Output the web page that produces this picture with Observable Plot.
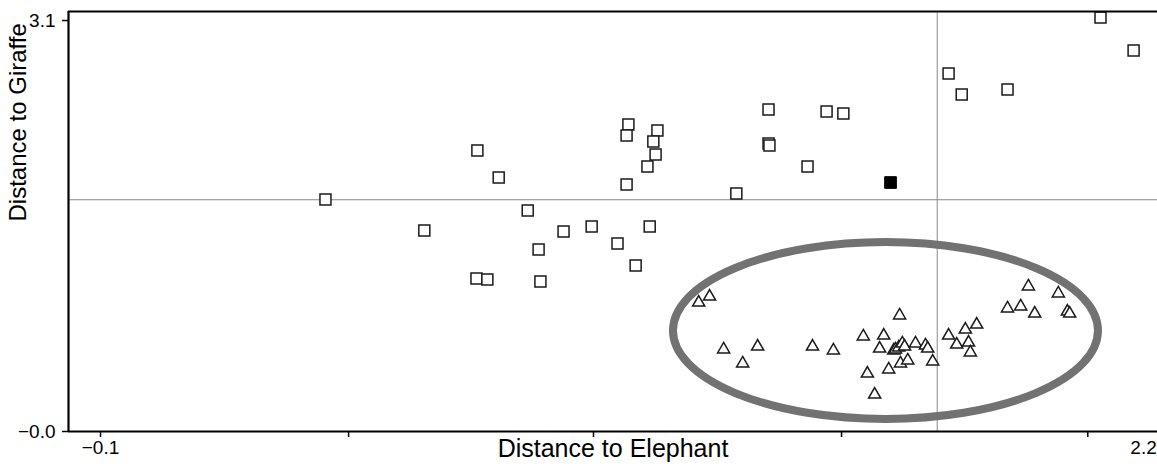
<!DOCTYPE html>
<html>
<head>
<meta charset="utf-8">
<script src="https://cdn.jsdelivr.net/npm/d3@7"></script>
<script src="https://cdn.jsdelivr.net/npm/@observablehq/plot@0.6"></script>
<style>
  html, body { margin: 0; padding: 0; background: #fff; }
  #chart svg { display: block; }
</style>
</head>
<body>
<div id="chart"></div>
<script>
// ---- Data ----
// Hollow squares
const squareX = [0.396, 0.614, 0.731, 0.778, 0.729, 0.753, 0.842, 0.866, 0.870, 0.921,
                 0.983, 1.040, 1.080, 1.064, 1.060, 1.128, 1.119, 1.124, 1.106, 1.060,
                 1.111, 1.302, 1.373, 1.373, 1.375, 1.459, 1.501, 1.538, 1.770, 1.799,
                 1.900, 2.105, 2.178];
const squareY = [1.750, 1.516, 2.120, 1.916, 1.154, 1.147, 1.667, 1.373, 1.131, 1.509,
                 1.546, 1.418, 1.252, 2.316, 2.233, 2.270, 2.187, 2.089, 1.999, 1.863,
                 1.546, 1.795, 2.429, 2.172, 2.157, 1.999, 2.414, 2.399, 2.700, 2.542,
                 2.580, 3.123, 2.874];
// Filled (highlighted) square
const markedX = [1.642];
const markedY = [1.878];
// Hollow triangles
const triangleX = [1.219, 1.243, 1.274, 1.316, 1.349, 1.470, 1.516, 1.582, 1.591, 1.607,
                   1.618, 1.627, 1.638, 1.662, 1.649, 1.653, 1.660, 1.668, 1.673, 1.664,
                   1.680, 1.697, 1.719, 1.724, 1.735, 1.770, 1.788, 1.807, 1.814, 1.818,
                   1.832, 1.900, 1.929, 1.946, 1.960, 2.012, 2.032, 2.037];
const triangleY = [0.973, 1.018, 0.619, 0.513, 0.641, 0.641, 0.611, 0.717, 0.437, 0.279,
                   0.626, 0.724, 0.468, 0.875, 0.611, 0.619, 0.634, 0.664, 0.641, 0.513,
                   0.536, 0.664, 0.649, 0.626, 0.528, 0.724, 0.656, 0.769, 0.671, 0.596,
                   0.807, 0.928, 0.943, 1.094, 0.890, 1.041, 0.905, 0.890];
// Reference (threshold) lines
const refX = 1.745;
const refY = 1.748;
// Ticks and labels
const xTicks = [-0.1, 0.447, 0.987, 1.534, 2.077];
const xLabelValues = [-0.1, 2.2];
const xLabels = ["\u22120.1", "2.2"];
const yTicks = [3.1, 0];
const yTickLabels = ["3.1", "\u22120.0"];
const xTitle = "Distance to Elephant";
const yTitle = "Distance to Giraffe";
// Axis extents
const xDomain = [-0.1706, 2.2307];
const yDomain = [0, 3.168];
// Circled cluster annotation (centre and radii in data units)
const ellipseCx = 1.632, ellipseCy = 0.758, ellipseRx = 0.4686, ellipseRy = 0.6675;

// ---- Build tables ----
const squares = squareX.map((x, i) => ({x, y: squareY[i]}));
const triangles = triangleX.map((x, i) => ({x, y: triangleY[i]}));
const marked = markedX.map((x, i) => ({x, y: markedY[i]}));
const yLabelData = yTicks.map((v, i) => ({v, label: yTickLabels[i]}));
const xLabelData = xLabelValues.map((v, i) => ({v, label: xLabels[i]}));

const ellipseMark = (index, scales, values, dimensions, context) => {
  const ns = "http://www.w3.org/2000/svg";
  const doc = (context && context.document) || document;
  const e = doc.createElementNS(ns, "ellipse");
  const cx = scales.x(ellipseCx), cy = scales.y(ellipseCy);
  const rx = Math.abs(scales.x(ellipseCx + ellipseRx) - cx);
  const ry = Math.abs(scales.y(ellipseCy + ellipseRy) - cy);
  e.setAttribute("cx", cx);
  e.setAttribute("cy", cy);
  e.setAttribute("rx", rx);
  e.setAttribute("ry", ry);
  e.setAttribute("fill", "none");
  e.setAttribute("stroke", "#727272");
  e.setAttribute("stroke-width", 8);
  return e;
};

const font = "'Liberation Sans', Arial, Helvetica, sans-serif";

const chart = Plot.plot({
  width: 1157,
  height: 471,
  marginTop: 11,
  marginBottom: 40,
  marginLeft: 68,
  marginRight: 0,
  x: {domain: xDomain},
  y: {domain: yDomain},
  style: {fontFamily: font, fontSize: "19px", color: "#000", background: "#fff"},
  marks: [
    Plot.ruleY([refY], {stroke: "#8a8a8a", strokeWidth: 1}),
    Plot.ruleX([refX], {stroke: "#8a8a8a", strokeWidth: 1}),
    ellipseMark,
    Plot.dot(squares, {x: "x", y: "y", symbol: "square", r: 6.2, fill: "white", stroke: "#1a1a1a", strokeWidth: 1.5}),
    Plot.dot(triangles, {x: "x", y: "y", symbol: "triangle", r: 4.5, fill: "white", stroke: "#1a1a1a", strokeWidth: 1.5}),
    Plot.dot(marked, {x: "x", y: "y", symbol: "square", r: 6.6, fill: "#000", stroke: "#000", strokeWidth: 1}),
    // frame lines (top, left, bottom)
    Plot.ruleY([yDomain[1]], {stroke: "#000", strokeWidth: 2.2}),
    Plot.ruleX([xDomain[0]], {stroke: "#000", strokeWidth: 2.2}),
    Plot.ruleY([yDomain[0]], {stroke: "#000", strokeWidth: 2.2}),
    // tick marks
    Plot.axisY({ticks: yTicks, tickFormat: () => "", tickSize: 6, strokeWidth: 1.5, label: null}),
    Plot.axisX({ticks: xTicks, tickFormat: () => "", tickSize: 6, strokeWidth: 1.5, label: null}),
    // tick labels
    Plot.text(yLabelData, {x: () => xDomain[0], y: "v", text: "label", textAnchor: "end", dx: -13,
                           fontSize: 19, fill: "#000"}),
    Plot.text(xLabelData, {x: "v", y: () => yDomain[0], text: "label", dy: 16, lineAnchor: "middle",
                           fontSize: 19, fill: "#000"}),
    // axis titles
    Plot.text([xTitle], {text: d => d, frameAnchor: "bottom", dy: 25, fontSize: 25, fill: "#000"}),
    Plot.text([yTitle], {text: d => d, frameAnchor: "left", dx: -50, rotate: -90, fontSize: 24, fill: "#000"})
  ]
});
document.getElementById("chart").appendChild(chart);
</script>
</body>
</html>
